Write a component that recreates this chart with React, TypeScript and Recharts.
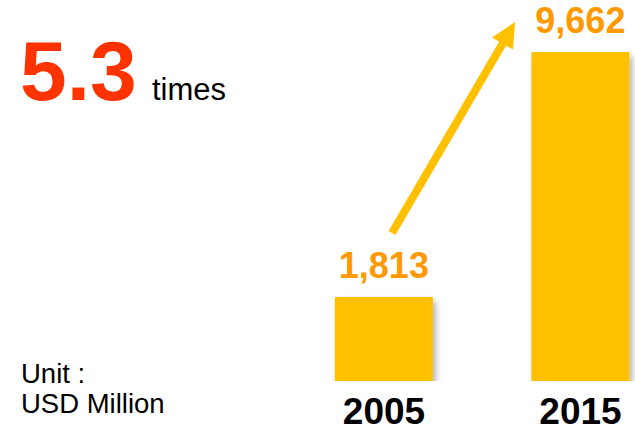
import React from "react";
import { BarChart, Bar, XAxis, YAxis, LabelList } from "recharts";

// values in USD Million
const years = ["2005", "2015"];
const values = [1813, 9662];
const growthLabel = "5.3";

const data = years.map((year, i) => ({ year, value: values[i] }));

const BAR_COLOR = "#FFC000";
const LABEL_COLOR = "#FF9900";
const FONT = "'Liberation Sans', Arial, sans-serif";

const fmt = (v: number) => v.toLocaleString("en-US");

export default function App() {
  return (
    <div style={{ position: "absolute", left: 0, top: 0, width: 635, height: 431, overflow: "hidden", background: "#fff" }}>
      <svg width={635} height={431} style={{ position: "absolute", left: 0, top: 0 }}>
        <defs>
          <filter id="barShadow" x="-10%" y="-10%" width="130%" height="130%">
            <feDropShadow dx="3" dy="4" stdDeviation="3" floodColor="#000" floodOpacity="0.3" />
          </filter>
        </defs>
      </svg>
      <div style={{ position: "absolute", left: 0, top: 0 }}>
        <BarChart width={680} height={431} data={data} margin={{ top: 52, right: 1.25, left: 285.75, bottom: 0 }} barCategoryGap="25%">
          <XAxis
            dataKey="year"
            axisLine={false}
            tickLine={false}
            tickSize={0}
            tickMargin={17}
            height={50}
            interval={0}
            tick={{ fill: "#000", fontSize: 37, fontWeight: 700, fontFamily: FONT }}
          />
          {/* log scale keeps the visual proportions of the original slide */}
          <YAxis hide scale="log" domain={[1021, 9662]} allowDataOverflow />
          <Bar dataKey="value" fill={BAR_COLOR} isAnimationActive={false} style={{ filter: "url(#barShadow)" }}>
            <LabelList
              dataKey="value"
              position="top"
              offset={19}
              formatter={(v: any) => fmt(Number(v))}
              style={{ fill: LABEL_COLOR, fontSize: 36, fontWeight: 700, fontFamily: FONT }}
            />
          </Bar>
        </BarChart>
      </div>
      <svg width={635} height={431} style={{ position: "absolute", left: 0, top: 0, pointerEvents: "none" }}>
        <text x={20} y={100} fontFamily={FONT} fontWeight={700} fontSize={84} fill="#FF3300">{growthLabel}</text>
        <text x={152} y={100} fontFamily={FONT} fontSize={31} fill="#000">times</text>
        <text x={21} y={383} fontFamily={FONT} fontSize={27.5} fill="#000">Unit :</text>
        <text x={21} y={413} fontFamily={FONT} fontSize={27.5} fill="#000">USD Million</text>
        <line x1={392} y1={233} x2={503} y2={43} stroke={BAR_COLOR} strokeWidth={8} />
        <polygon points="515,22 513,49.6 492,37.6" fill={BAR_COLOR} />
      </svg>
    </div>
  );
}
